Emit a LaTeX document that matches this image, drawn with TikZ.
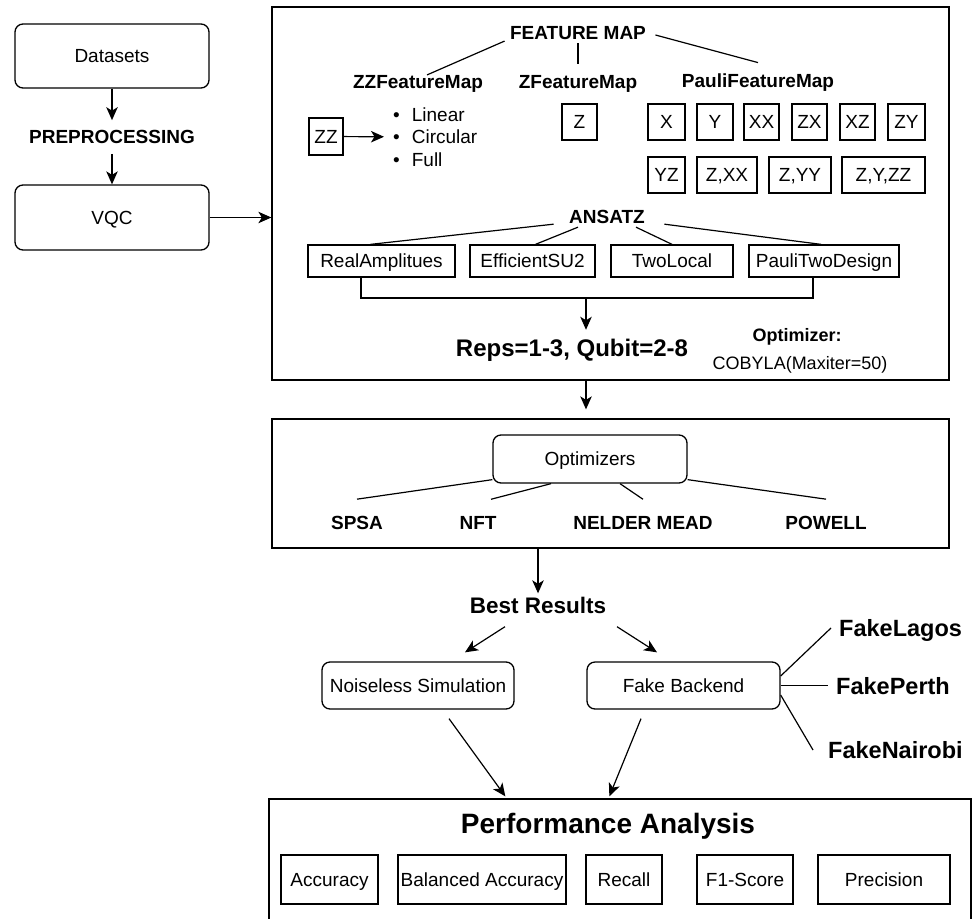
\documentclass[tikz,border=0pt]{standalone}
\usepackage{fontspec}
\setmainfont{Liberation Sans}
\usetikzlibrary{arrows.meta,calc}
\begin{document}
\begin{tikzpicture}[x=1pt,y=-1pt,
  every node/.style={text depth=0pt},
  sz/.style 2 args={minimum width=#1pt, minimum height=#2pt},
  base/.style={font=\fontsize{19}{22}\selectfont},
  hd/.style={font=\bfseries\fontsize{19}{22}\selectfont},
  rbox/.style={draw, line width=1.3pt, rounded corners=8pt, inner sep=0pt, font=\fontsize{19}{22}\selectfont, align=center},
  sbox/.style={draw, line width=1.3pt, inner sep=0pt, font=\fontsize{19}{22}\selectfont},
  frame/.style={draw, line width=1.3pt, inner sep=0pt},
  fake/.style={font=\bfseries\fontsize{23.5}{27}\selectfont, anchor=west, inner xsep=8pt},
  ln/.style={line width=1.2pt},
  arr/.style={line width=1.2pt, -{Stealth[length=13pt,width=11.5pt,inset=3.5pt]}}]
\useasboundingbox (0,0) rectangle (979,918);
% frames
\node[frame, sz={677}{373}] (box1) at (610.5,193.5) {};
\node[frame, sz={677}{129}] (box2) at (610.5,483.5) {};
\node[frame, sz={702}{123}] (perf) at (620,860.5) {};
% left column
\node[rbox, sz={194}{64}] (ds) at (112,56) {Datasets};
\node[hd, inner xsep=3pt, inner ysep=10pt] (prep) at (112,137) {PREPROCESSING};
\node[rbox, sz={194}{65}] (vqc) at (112,217.5) {VQC};
\draw[arr] (ds) -- (prep);
\draw[arr] (prep) -- (vqc);
\draw[arr] (vqc) -- (vqc -| box1.west);
% feature map
\node[hd] (fm) at (578,33) {FEATURE MAP};
\node[hd] (zzfm) at (418,82) {ZZFeatureMap};
\node[hd] (zfm) at (578,82) {ZFeatureMap};
\node[hd] (pfm) at (758,81) {PauliFeatureMap};
\draw[ln] ([xshift=-2pt,yshift=2pt]fm.south west) -- ([xshift=9pt,yshift=-3pt]zzfm.north);
\draw[ln, shorten >=8pt] (fm.south) -- (zfm.north);
\draw[ln] ([xshift=6pt,yshift=-2pt]fm.east) -- ([yshift=8pt]pfm.north);
\node[sbox, sz={34}{37}] (zz) at (326,136.5) {ZZ};
\node[base, anchor=west, inner sep=0pt] (l1) at (393,115) {\textbullet\hspace{12pt}Linear};
\node[base, anchor=west, inner sep=0pt] (l2) at (393,137) {\textbullet\hspace{12pt}Circular};
\node[base, anchor=west, inner sep=0pt] (l3) at (393,160) {\textbullet\hspace{12pt}Full};
\draw[arr, shorten >=9pt] (zz) -- (l2);
\node[sbox, sz={35}{36}] (z) at (579.5,122) {Z};
\node[sbox, sz={37}{36}] (px) at (666.5,122) {X};
\node[sbox, sz={36}{36}] (py) at (715,122) {Y};
\node[sbox, sz={35}{36}] (pxx) at (761.5,122) {XX};
\node[sbox, sz={35}{36}] (pzx) at (809.5,122) {ZX};
\node[sbox, sz={35}{36}] (pxz) at (857.5,122) {XZ};
\node[sbox, sz={37}{36}] (pzy) at (906.5,122) {ZY};
\node[sbox, sz={37}{36}] (pyz) at (666.5,175) {YZ};
\node[sbox, sz={60}{36}] (pzxx) at (727,175) {Z,XX};
\node[sbox, sz={62}{36}] (pzyy) at (800,175) {Z,YY};
\node[sbox, sz={83}{36}] (pzyzz) at (883.5,175) {Z,Y,ZZ};
% ansatz
\node[hd] (ans) at (607,217) {ANSATZ};
\node[sbox, sz={147}{32}] (ra) at (381.5,261) {RealAmplitues};
\node[sbox, sz={125}{32}] (es) at (532.5,261) {EfficientSU2};
\node[sbox, sz={122}{32}] (tl) at (672,261) {TwoLocal};
\node[sbox, sz={150}{32}] (ptd) at (824,261) {PauliTwoDesign};
\draw[ln] ([xshift=-12pt,yshift=3pt]ans.south west) -- ([xshift=-11pt]ra.north);
\draw[ln] ([xshift=-29pt]ans.south) -- ([xshift=3pt]es.north);
\draw[ln] ([xshift=29pt]ans.south) -- (tl.north);
\draw[ln] ([xshift=16pt,yshift=3pt]ans.south east) -- ([xshift=-3pt]ptd.north);
\coordinate (brk) at (586,298);
\draw[ln] ([xshift=-20.5pt]ra.south) |- (brk) -| ([xshift=-11pt]ptd.south);
\node[font=\bfseries\fontsize{24}{28}\selectfont] (reps) at (572,348) {Reps=1-3, Qubit=2-8};
\draw[arr, shorten >=6pt] (brk) -- (brk |- reps.north);
\node[font=\bfseries\fontsize{18}{21}\selectfont] (optl) at (797,335) {Optimizer:};
\node[font=\fontsize{18}{21}\selectfont] (coby) at (800,363) {COBYLA(Maxiter=50)};
\draw[arr, shorten >=9pt] (brk |- box1.south) -- (brk |- box2.north);
% optimizers
\node[rbox, sz={194}{48}] (optb) at (590,459) {Optimizers};
\node[hd, inner ysep=17pt] (spsa) at (357,523) {SPSA};
\node[hd, inner ysep=17pt] (nft) at (478,523) {NFT};
\node[hd, inner ysep=17pt] (nm) at (643,523) {NELDER MEAD};
\node[hd, inner ysep=17pt] (pw) at (826,523) {POWELL};
\draw[ln] ([yshift=4pt]optb.south west) -- (spsa.north);
\draw[ln] ([xshift=-39pt]optb.south) -- ([xshift=13pt]nft.north);
\draw[ln] ([xshift=30pt]optb.south) -- (nm.north);
\draw[ln] ([yshift=4pt]optb.south east) -- (pw.north);
% results
\node[font=\bfseries\fontsize{22.5}{26}\selectfont] (best) at (538,605) {Best Results};
\draw[arr] (best.north |- box2.south) -- (best.north);
\node[rbox, sz={192}{47}] (ns) at (418,685.5) {Noiseless Simulation};
\node[rbox, sz={193}{47}] (fb) at (683.5,685.5) {Fake Backend};
\draw[arr] ([xshift=-33pt,yshift=-10pt]best.south) -- ([xshift=47pt,yshift=9pt]ns.north);
\draw[arr] ([xshift=79pt,yshift=-10pt]best.south) -- ([xshift=-26.5pt,yshift=9pt]fb.north);
\node[fake] (flag) at (831,628) {FakeLagos};
\node[fake] (fper) at (828,686) {FakePerth};
\node[fake] (fnai) at (820,750) {FakeNairobi};
\draw[ln] ([yshift=9.5pt]fb.east) -- (flag.west);
\draw[ln] (fb.east) -- (fb.east -| fper.west);
\draw[ln] ([yshift=-9.5pt]fb.east) -- ([xshift=-7pt]fnai.west);
% performance
\node[font=\bfseries\fontsize{28}{32}\selectfont] (pa) at (608,823) {Performance Analysis};
\node[sbox, sz={97}{49}] (acc) at (329.5,879.5) {Accuracy};
\node[sbox, sz={168}{49}] (bal) at (482,879.5) {Balanced Accuracy};
\node[sbox, sz={76}{49}] (rec) at (624,879.5) {Recall};
\node[sbox, sz={96}{49}] (f1) at (745,879.5) {F1-Score};
\node[sbox, sz={132}{49}] (prec) at (884,879.5) {Precision};
\draw[arr] ([xshift=31pt,yshift=-9pt]ns.south) -- ([xshift=237pt,yshift=2pt]perf.north west);
\draw[arr] ([xshift=-42.5pt,yshift=-9pt]fb.south) -- ([xshift=341pt,yshift=2pt]perf.north west);
\end{tikzpicture}
\end{document}
